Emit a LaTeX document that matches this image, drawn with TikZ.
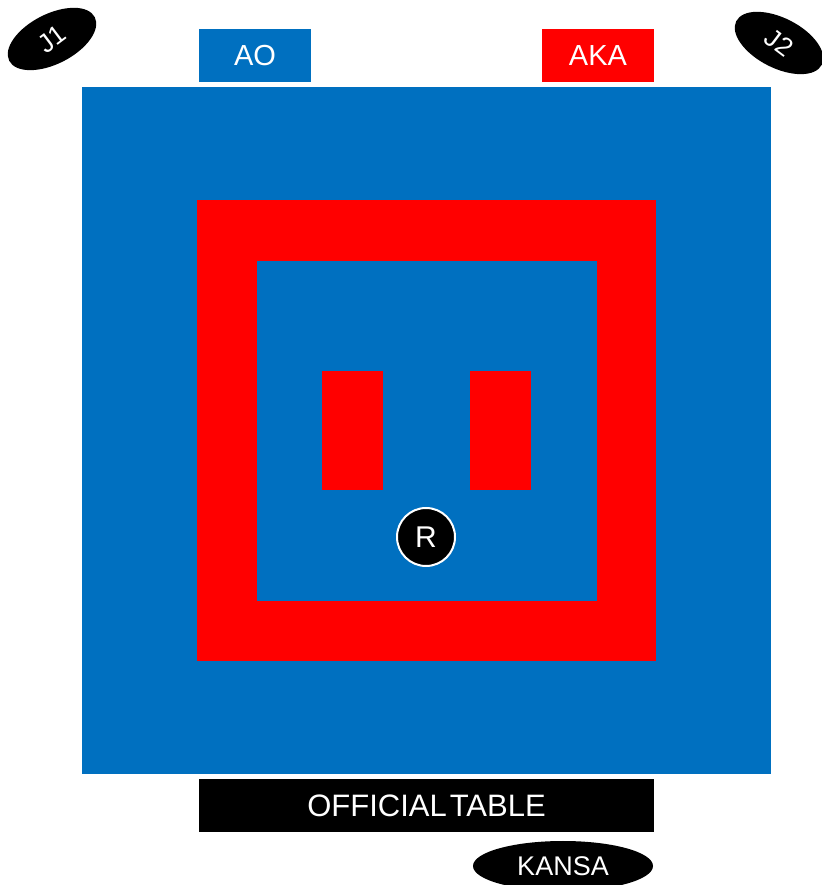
\documentclass[tikz,border=0pt]{standalone}
\usepackage{fontspec}
\setmainfont{Liberation Sans}
\usepackage{xcolor}
\usepackage{tikz}
\usetikzlibrary{shapes.geometric, positioning}
\definecolor{MatBlue}{RGB}{0, 112, 192}
\definecolor{MatRed}{RGB}{255, 0, 0}
\definecolor{MatBlack}{RGB}{0, 0, 0}

\begin{document}
\begin{tikzpicture}[x=1pt,y=1pt,
    flagbox/.style={rectangle, minimum width=112pt, minimum height=53pt, inner sep=0pt,
                    text=white, font=\fontsize{29}{34}\selectfont},
    judge/.style={ellipse, fill=MatBlack, minimum width=96pt, minimum height=50pt,
                  inner sep=0pt, text=white, font=\fontsize{26}{30}\selectfont}]
  \path[use as bounding box] (0,0) rectangle (821,885);
  \fill[white] (0,0) rectangle (821,885);

  % competition area and safety zone
  \fill[MatBlue] (82,111) rectangle (771,798);
  \fill[MatRed] (197,224) rectangle (656,685);
  \fill[MatBlue] (257,284) rectangle (597,624);

  % starting lines
  \fill[MatRed] (322,395) rectangle (383,514);
  \fill[MatRed] (470,395) rectangle (531,514);

  % referee
  \node[circle, fill=MatBlack, draw=white, line width=2pt, minimum size=58pt, inner sep=0pt,
        text=white, font=\fontsize{30}{34}\selectfont] (referee) at (426,348) {R};

  % competitors
  \node[flagbox, fill=MatBlue] (ao) at (255,829.5) {AO};
  \node[flagbox, fill=MatRed] (aka) at (598,829.5) {AKA};

  % judges
  \node[judge, rotate=27] (judgeA) at (52,846) {\rotatebox{10}{J1}};
  \node[judge, rotate=-27] (judgeB) at (779,842) {\rotatebox{-10}{J2}};

  % table
  \node[rectangle, fill=MatBlack, minimum width=455pt, minimum height=53pt, inner sep=0pt,
        text=white, font=\fontsize{31}{36}\selectfont] (table) at (426.5,79.5) {OFFICIAL\kern3pt TABLE};
  \node[ellipse, fill=MatBlack, minimum width=180pt, minimum height=50pt, inner sep=0pt,
        text=white, font=\fontsize{27}{32}\selectfont] (kansa) at (563,19) {KANSA};
\end{tikzpicture}
\end{document}
